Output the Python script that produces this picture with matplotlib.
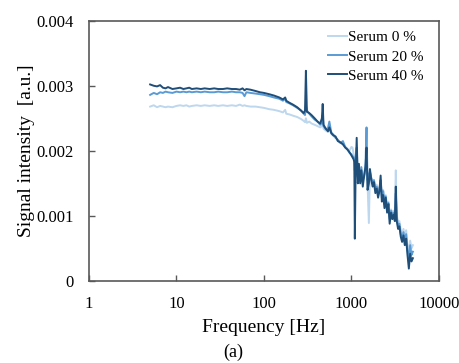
import numpy as np
import matplotlib
matplotlib.use('Agg')
import matplotlib.pyplot as plt

plt.rcParams['font.family'] = 'Liberation Serif'

# Frequency [Hz]
freq = [5.0, 5.5, 6.0, 6.5, 7.0, 7.5, 8.0, 9.0, 10, 11, 12, 13, 14, 15, 17, 19,
        21, 24, 27, 30, 34, 38, 43, 48, 53, 57, 60, 63, 70, 80, 90, 100,
        115, 130, 150, 165, 175, 180, 195, 215, 240, 265, 285, 295, 302, 310,
        330, 350, 380, 410, 440, 460, 470, 480, 510, 540, 560, 590, 620, 660,
        700, 750, 800, 850, 900, 950, 1000,
        1030, 1060, 1080, 1095, 1115, 1150, 1185, 1220, 1260, 1300, 1350, 1400,
        1450, 1490, 1530, 1585, 1630, 1690, 1750, 1810, 1880, 1950, 2020, 2090,
        2160, 2230, 2310, 2390, 2470, 2560, 2650, 2740, 2840, 2940, 3040, 3140,
        3220, 3300, 3420, 3540, 3670, 3800, 3940, 4080, 4230, 4380, 4540, 4700,
        4870, 5050]

# Signal intensity, x 0.001 a.u.
serum0 = [2.68, 2.70, 2.67, 2.69, 2.68, 2.67, 2.68, 2.67, 2.69, 2.70, 2.69, 2.70,
          2.68, 2.69, 2.70, 2.69, 2.70, 2.69, 2.70, 2.69, 2.70, 2.69, 2.70, 2.69,
          2.71, 2.69, 2.70, 2.69, 2.68, 2.68, 2.67, 2.66,
          2.64, 2.63, 2.61, 2.59, 2.63, 2.57, 2.56, 2.54, 2.52, 2.49, 2.46, 2.44,
          2.50, 2.43, 2.45, 2.42, 2.40, 2.38, 2.36, 2.38, 2.44, 2.34, 2.31, 2.29,
          2.33, 2.26, 2.23, 2.20, 2.16, 2.12, 2.10, 2.06, 2.02, 2.00, 2.06,
          2.05, 1.95, 1.90, 1.80, 1.88, 1.90, 1.65, 1.75, 1.62, 1.72, 1.58, 1.62,
          1.68, 1.75, 1.50, 0.89, 1.65, 1.58, 1.52, 1.55, 1.45, 1.48, 1.35, 1.42,
          1.50, 1.32, 1.40, 1.22, 1.32, 1.15, 1.22, 1.00, 1.10, 1.05, 1.08, 1.00,
          1.70, 1.02, 0.90, 0.92, 0.78, 0.72, 0.80, 0.66, 0.78, 0.55, 0.45, 0.62,
          0.50, 0.55]

serum20 = [2.86, 2.89, 2.87, 2.90, 2.89, 2.91, 2.90, 2.89, 2.91, 2.90, 2.91, 2.90,
           2.91, 2.90, 2.91, 2.90, 2.91, 2.90, 2.90, 2.91, 2.90, 2.90, 2.91, 2.90,
           2.90, 2.89, 2.84, 2.90, 2.89, 2.88, 2.87, 2.86,
           2.84, 2.82, 2.80, 2.77, 2.80, 2.75, 2.73, 2.70, 2.66, 2.62, 2.57, 2.55,
           2.70, 2.62, 2.57, 2.53, 2.48, 2.45, 2.40, 2.43, 2.55, 2.38, 2.33, 2.35,
           2.45, 2.28, 2.25, 2.20, 2.17, 2.12, 2.15, 2.06, 2.03, 1.97, 1.95,
           1.92, 1.90, 1.86, 1.70, 1.90, 2.05, 1.60, 1.70, 1.58, 1.75, 1.55, 1.60,
           1.80, 2.36, 1.55, 1.62, 1.68, 1.58, 1.50, 1.55, 1.42, 1.45, 1.32, 1.40,
           1.55, 1.28, 1.38, 1.18, 1.30, 1.10, 1.20, 0.95, 1.08, 1.00, 1.05, 0.98,
           1.35, 0.98, 0.85, 0.88, 0.72, 0.66, 0.75, 0.60, 0.72, 0.48, 0.32, 0.55,
           0.40, 0.45]

serum40 = [3.02, 3.00, 2.99, 3.01, 2.97, 2.96, 2.98, 2.95, 2.96, 2.97, 2.95, 2.96,
           2.97, 2.95, 2.96, 2.95, 2.96, 2.95, 2.96, 2.95, 2.95, 2.96, 2.95, 2.95,
           2.94, 2.96, 2.93, 2.95, 2.94, 2.92, 2.90, 2.89,
           2.87, 2.85, 2.82, 2.79, 2.82, 2.77, 2.74, 2.71, 2.67, 2.62, 2.58, 2.62,
           3.23, 2.60, 2.58, 2.55, 2.50, 2.45, 2.42, 2.50, 2.72, 2.40, 2.34, 2.30,
           2.36, 2.27, 2.24, 2.22, 2.15, 2.13, 2.10, 2.05, 2.02, 1.98, 1.93,
           1.90, 1.87, 1.83, 0.65, 1.55, 2.20, 1.50, 1.80, 1.50, 1.70, 1.45, 1.62,
           1.75, 2.05, 1.40, 1.50, 1.72, 1.55, 1.45, 1.52, 1.35, 1.42, 1.28, 1.38,
           1.62, 1.22, 1.32, 1.12, 1.28, 1.05, 1.18, 0.88, 1.05, 0.95, 1.02, 0.92,
           1.45, 0.92, 0.80, 0.84, 0.68, 0.60, 0.70, 0.55, 0.65, 0.40, 0.19, 0.42,
           0.30, 0.35]

labels = ['Serum 0 %', 'Serum 20 %', 'Serum 40 %']
colors = ['#bdd7ee', '#5b9bd5', '#1f4e79']

fig = plt.figure(figsize=(4.6, 3.63), dpi=100)
ax = fig.add_axes([0.1935, 0.226, 0.7605, 0.717])

for vals, lab, col in zip([serum0, serum20, serum40], labels, colors):
    ax.plot(freq, np.array(vals) * 1e-3, color=col, linewidth=1.4, label=lab)

ax.set_xscale('log')
ax.set_xlim(1, 10000)
ax.set_ylim(0, 0.004)
ax.set_xticks([1, 10, 100, 1000, 10000])
ax.set_xticklabels(['1', '10', '100', '1000', '10000'])
ax.set_yticks([0, 0.001, 0.002, 0.003, 0.004])
ax.set_yticklabels(['0', '0.001', '0.002', '0.003', '0.004'])
ax.minorticks_off()
ax.tick_params(direction='in', length=4, width=1, color='#595959',
               labelsize=12)
ax.tick_params(axis='x', pad=11)
ax.tick_params(axis='y', pad=11)

for sp in ax.spines.values():
    sp.set_color('#595959')
    sp.set_linewidth(1.2)

ax.set_xlabel('Frequency [Hz]', fontsize=14, labelpad=5)
ax.set_ylabel('Signal intensity  [a.u.]', fontsize=14, labelpad=1)

ax.legend(loc='upper right', frameon=False, fontsize=11, handlelength=1.2,
          handletextpad=0.1, labelspacing=0.36, borderaxespad=0.25,
          bbox_to_anchor=(0.985, 1.0))

fig.text(0.507, 0.03, '(a)', ha='center', va='center', fontsize=13)

fig.savefig('out.png', dpi=100)
